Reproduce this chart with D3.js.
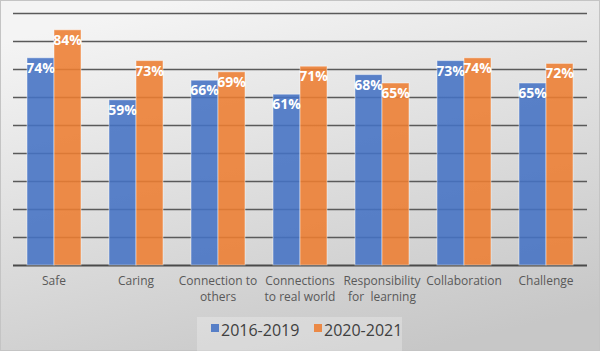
<!DOCTYPE html>
<html lang="en">
<head>
    <meta charset="UTF-8">
    <title>School climate 2016-2019 vs 2020-2021</title>
    <style>
        body { margin: 0; }
        svg { display: block; }
    </style>
</head>
<body>
    <div id="chart"></div>

    <script src="https://cdn.jsdelivr.net/npm/d3@7/dist/d3.min.js"></script>
    <script>
        // data
        const categories = [
            ["Safe"],
            ["Caring"],
            ["Connection to", "others"],
            ["Connections", "to real world"],
            ["Responsibility", "for  learning"],
            ["Collaboration"],
            ["Challenge"]
        ];
        const series = ["2016-2019", "2020-2021"];
        const values2016 = [74, 59, 66, 61, 68, 73, 65];
        const values2020 = [84, 73, 69, 71, 65, 74, 72];
        const yTicks = [0, 10, 20, 30, 40, 50, 60, 70, 80, 90];

        const colors = ["#4472C4", "#ED7D31"];
        const width = 600, height = 351;
        const font = "'Open Sans', 'Liberation Sans', sans-serif";

        const svg = d3.select("#chart")
            .append("svg")
            .attr("width", width)
            .attr("height", height);

        // background gradient
        const grad = svg.append("defs").append("linearGradient")
            .attr("id", "bg")
            .attr("x1", "0.3").attr("y1", "0")
            .attr("x2", "0.7").attr("y2", "1");
        grad.append("stop").attr("offset", "0").attr("stop-color", "#f4f4f4");
        grad.append("stop").attr("offset", "1").attr("stop-color", "#c7c7c7");

        svg.append("rect")
            .attr("x", 0.5).attr("y", 0.5)
            .attr("width", width - 1).attr("height", height - 1)
            .attr("fill", "url(#bg)")
            .attr("stroke", "#c4c4c4");

        const plot = {left: 13, right: 587, top: 13, bottom: 265};

        const x = d3.scaleBand()
            .domain(d3.range(categories.length))
            .range([plot.left, plot.right])
            .paddingInner(28 / 82)
            .paddingOuter(14 / 82);

        const xInner = d3.scaleBand()
            .domain(series)
            .range([0, x.bandwidth()]);

        const y = d3.scaleLinear()
            .domain([0, 90])
            .range([plot.bottom, plot.top]);

        // gridlines
        svg.append("g")
            .selectAll("line")
            .data(yTicks)
            .join("line")
                .attr("x1", plot.left)
                .attr("x2", plot.right)
                .attr("y1", (d) => Math.round(y(d)) + 0.5)
                .attr("y2", (d) => Math.round(y(d)) + 0.5)
                .attr("stroke", (d) => d === 0 ? "#4a4a4a" : "#5a5a5a")
                .attr("stroke-width", (d) => d === 0 ? 1.8 : 1.4);

        const rows = categories.map((c, i) => ({i: i, vals: [values2016[i], values2020[i]]}));

        const groups = svg.append("g")
            .selectAll("g")
            .data(rows)
            .join("g")
                .attr("transform", (d) => `translate(${x(d.i)},0)`);

        groups.selectAll("rect")
            .data((d) => d.vals.map((v, k) => ({v: v, k: k})))
            .join("rect")
                .attr("x", (d) => xInner(series[d.k]))
                .attr("y", (d) => y(d.v))
                .attr("width", xInner.bandwidth())
                .attr("height", (d) => y(0) - y(d.v))
                .attr("fill", (d) => colors[d.k])
                .attr("fill-opacity", 0.88)
                .attr("stroke", "#ffffff")
                .attr("stroke-opacity", 0.45)
                .attr("stroke-width", 1);

        groups.selectAll("text")
            .data((d) => d.vals.map((v, k) => ({v: v, k: k})))
            .join("text")
                .attr("x", (d) => xInner(series[d.k]) + xInner.bandwidth() / 2)
                .attr("y", (d) => y(d.v) + 15)
                .attr("text-anchor", "middle")
                .attr("font-family", font)
                .attr("font-weight", "bold")
                .attr("font-size", 14)
                .attr("fill", "#ffffff")
                .text((d) => d.v + "%");

        // category labels
        svg.append("g")
            .selectAll("text")
            .data(rows)
            .join("text")
                .attr("x", (d) => x(d.i) + x.bandwidth() / 2)
                .attr("y", 285)
                .attr("text-anchor", "middle")
                .attr("font-family", font)
                .attr("font-size", 12)
                .attr("fill", "#595959")
                .style("white-space", "pre")
                .selectAll("tspan")
                .data((d) => categories[d.i])
                .join("tspan")
                    .attr("x", function () { return d3.select(this.parentNode).attr("x"); })
                    .attr("dy", (d, j) => j === 0 ? 0 : 16)
                    .text((d) => d);

        // legend
        const legend = svg.append("g");
        legend.append("rect")
            .attr("x", 197).attr("y", 317)
            .attr("width", 205).attr("height", 34)
            .attr("fill", "#ffffff")
            .attr("fill-opacity", 0.25);

        const legendX = [211, 314];
        series.forEach((s, k) => {
            legend.append("rect")
                .attr("x", legendX[k]).attr("y", 324)
                .attr("width", 8).attr("height", 8)
                .attr("fill", colors[k])
                .attr("fill-opacity", 0.88);
            legend.append("text")
                .attr("x", legendX[k] + 10)
                .attr("y", 335.5)
                .attr("font-family", font)
                .attr("font-size", 16)
                .attr("fill", "#404040")
                .text(s);
        });
    </script>
</body>
</html>
